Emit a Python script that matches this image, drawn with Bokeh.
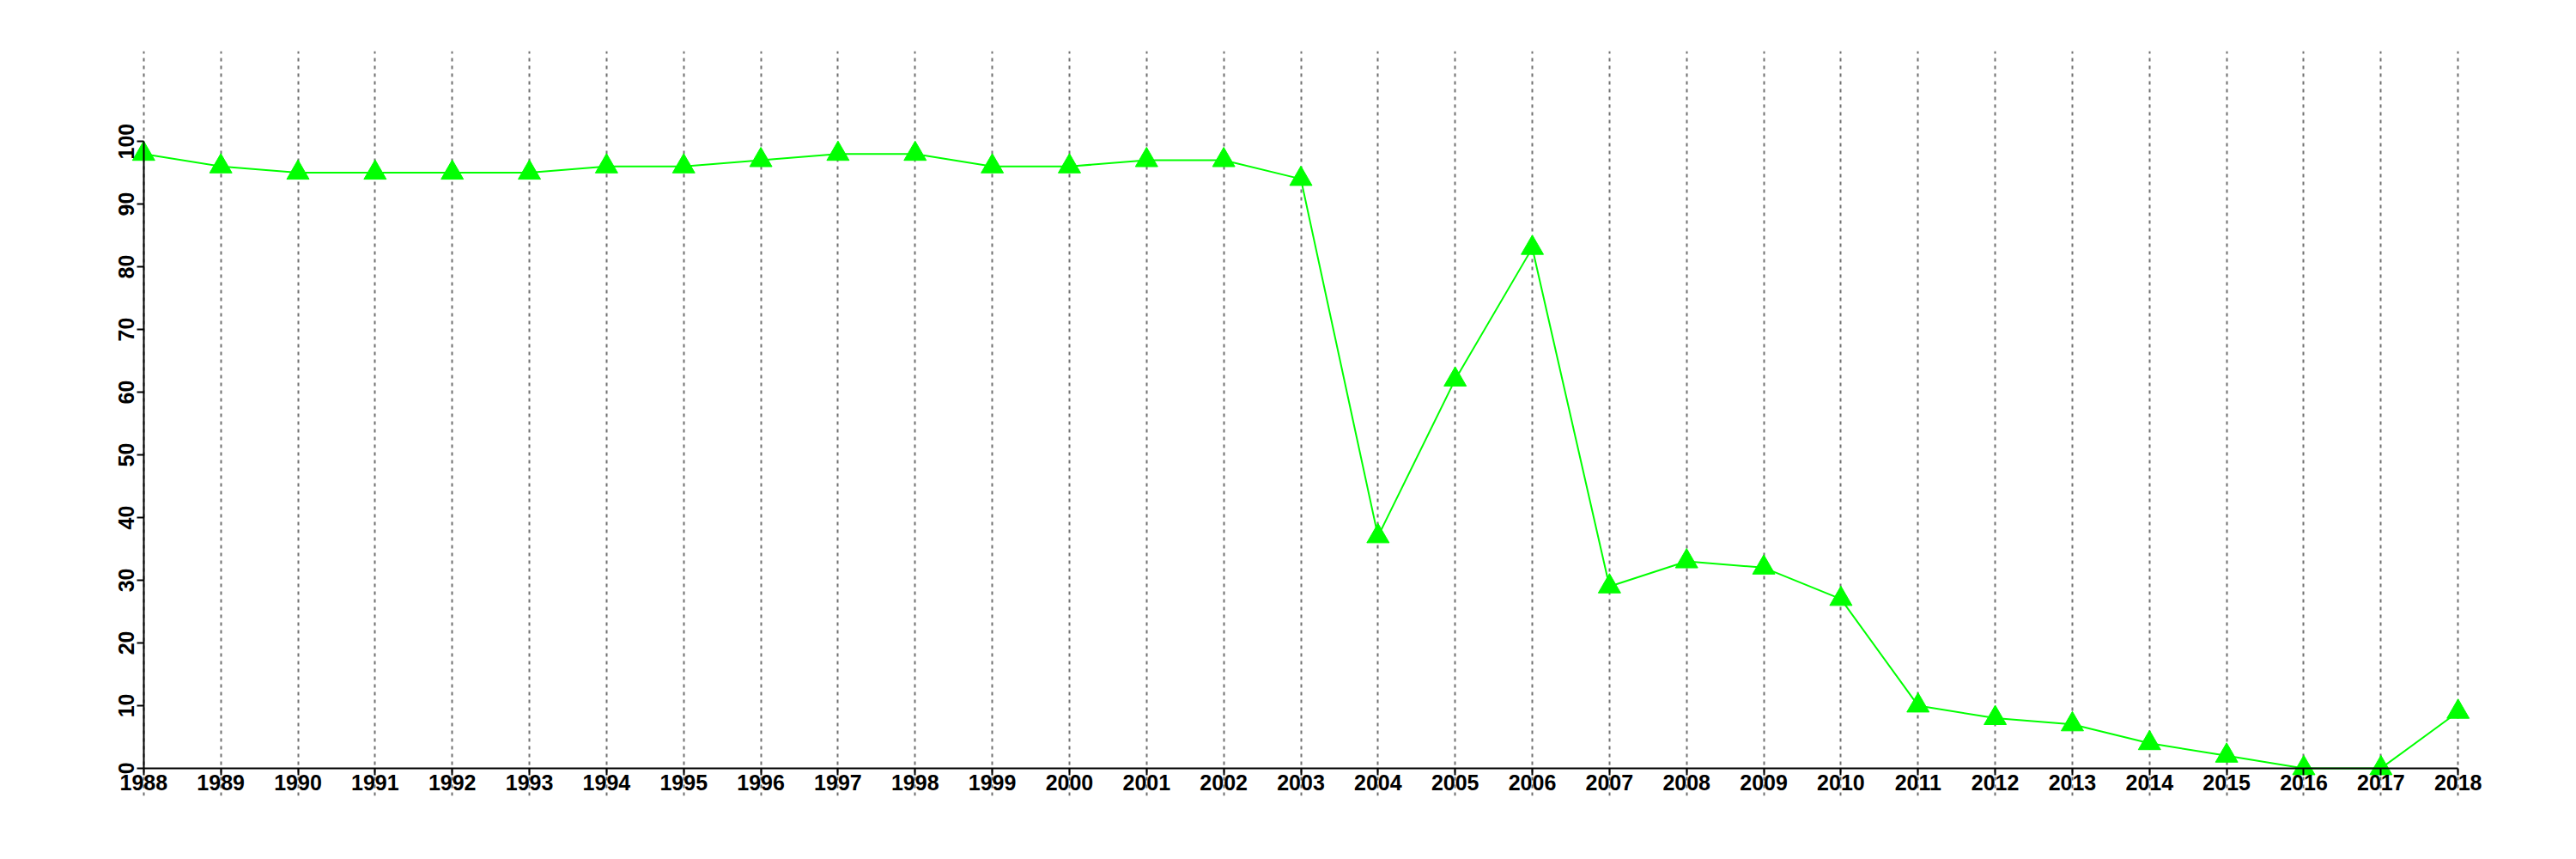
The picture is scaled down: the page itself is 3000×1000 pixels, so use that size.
from bokeh.plotting import figure
from bokeh.models import LinearAxis, FixedTicker, Range1d, ColumnDataSource, Grid
from bokeh.embed import file_html
from bokeh.resources import INLINE

years = [1988, 1989, 1990, 1991, 1992, 1993, 1994, 1995, 1996, 1997,
         1998, 1999, 2000, 2001, 2002, 2003, 2004, 2005, 2006, 2007,
         2008, 2009, 2010, 2011, 2012, 2013, 2014, 2015, 2016, 2017, 2018]
values = [98, 96, 95, 95, 95, 95, 96, 96, 97, 98,
          98, 96, 96, 97, 97, 94, 37, 62, 83, 29,
          33, 32, 27, 10, 8, 7, 4, 2, 0, 0, 9]
y_ticks = [0, 10, 20, 30, 40, 50, 60, 70, 80, 90, 100]

src = ColumnDataSource(data=dict(x=years, y=values))

p = figure(width=2988, height=988, output_backend="svg", toolbar_location=None,
           x_range=Range1d(1986.8, 2019.2), y_range=Range1d(-4.4, 114.4),
           x_axis_type=None, y_axis_type=None,
           min_border_left=59, min_border_top=59, min_border_right=18, min_border_bottom=62)
p.outline_line_color = None
p.background_fill_color = "white"
p.border_fill_color = "white"

xaxis = LinearAxis(ticker=FixedTicker(ticks=years), fixed_location=0, bounds=(years[0], years[-1]))
yaxis = LinearAxis(ticker=FixedTicker(ticks=y_ticks), fixed_location=years[0], bounds=(y_ticks[0], y_ticks[-1]))
for ax in (xaxis, yaxis):
    ax.axis_line_color = "black"
    ax.axis_line_width = 2
    ax.major_tick_line_color = "black"
    ax.major_tick_line_width = 2
    ax.major_tick_out = 8
    ax.major_tick_in = 0
    ax.minor_tick_line_color = None
    ax.major_label_text_font = "Liberation Sans"
    ax.major_label_text_font_style = "bold"
    ax.major_label_text_font_size = "25px"
    ax.major_label_text_color = "black"
    ax.major_label_standoff = 0
yaxis.major_label_orientation = "vertical"
yaxis.major_label_standoff = 3
p.add_layout(xaxis, "below")
p.add_layout(yaxis, "left")

g = Grid(dimension=0, ticker=FixedTicker(ticks=years), grid_line_color="#707070",
         grid_line_width=2, grid_line_dash="4 5")
p.add_layout(g)

p.line("x", "y", source=src, line_color="#00ff00", line_width=2)
p.scatter("x", "y", source=src, marker="triangle", size=26, fill_color="#00ff00",
          line_color="#00ff00", line_width=1)

open("out.html", "w").write(file_html(p, INLINE))
